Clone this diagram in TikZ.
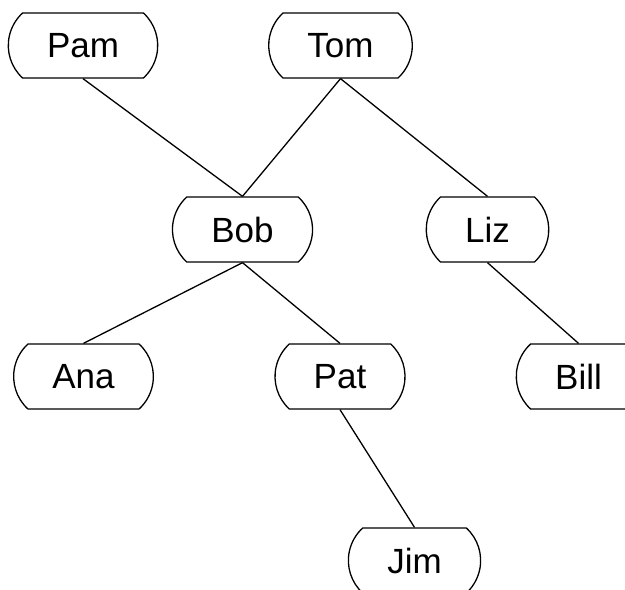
\documentclass[tikz,border=0pt]{standalone}
\usepackage{fontspec}
\setmainfont{Liberation Sans}
\usetikzlibrary{shapes.misc}
\tikzset{
	person/.style={draw, line width=0.65pt, rounded rectangle, rounded rectangle arc length=95,
		minimum height=32.5pt, inner xsep=18.5pt, font=\fontsize{17.5}{20}\selectfont}
}

\begin{document}
\begin{tikzpicture}[x=0.5pt, y=-0.5pt]
	\useasboundingbox (0,0) rectangle (625,589);
	\clip (0,0) rectangle (625,589);
	\foreach \name/\x/\y in {Pam/83/45.5, Tom/340.5/45.5, Bob/242.5/229.5, Liz/487.5/229.5,
		Ana/83.5/376.5, Pat/340/376.5, Bill/578.5/376.5, Jim/414.5/560.5}{
		\node[person] (\name) at (\x,\y) {\name};
	}
	% parent -- child
	\foreach \a/\b in {Pam/Bob, Tom/Bob, Tom/Liz, Bob/Ana, Bob/Pat, Liz/Bill, Pat/Jim}{
		\draw[line width=0.65pt] (\a.south) -- (\b.north);
	}
\end{tikzpicture}
\end{document}
